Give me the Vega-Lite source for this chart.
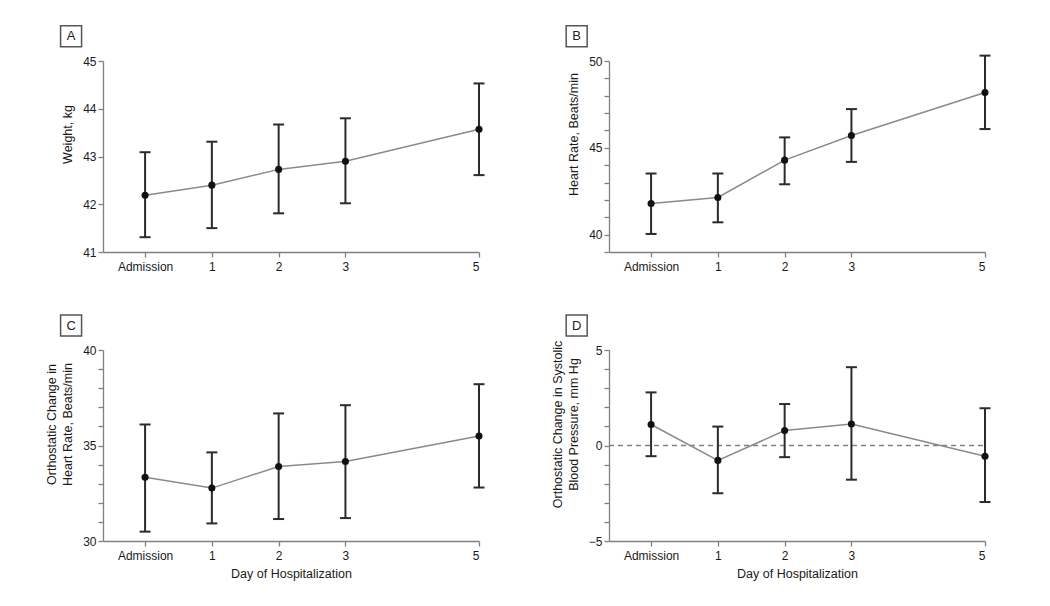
{
  "$schema": "https://vega.github.io/schema/vega-lite/v6.json",
  "background": "white",
  "padding": {"left": 45, "top": 22, "right": 5, "bottom": 5},
  "datasets": {
    "d": [
      {"panel": "A", "day": 0, "mean": 42.19, "lo": 41.31, "hi": 43.09},
      {"panel": "A", "day": 1, "mean": 42.4, "lo": 41.5, "hi": 43.31},
      {"panel": "A", "day": 2, "mean": 42.73, "lo": 41.81, "hi": 43.67},
      {"panel": "A", "day": 3, "mean": 42.9, "lo": 42.02, "hi": 43.8},
      {"panel": "A", "day": 5, "mean": 43.57, "lo": 42.61, "hi": 44.53},
      {"panel": "B", "day": 0, "mean": 41.79, "lo": 40.04, "hi": 43.52},
      {"panel": "B", "day": 1, "mean": 42.14, "lo": 40.71, "hi": 43.52},
      {"panel": "B", "day": 2, "mean": 44.29, "lo": 42.9, "hi": 45.6},
      {"panel": "B", "day": 3, "mean": 45.71, "lo": 44.19, "hi": 47.23},
      {"panel": "B", "day": 5, "mean": 48.19, "lo": 46.08, "hi": 50.31},
      {"panel": "C", "day": 0, "mean": 33.34, "lo": 30.49, "hi": 36.1},
      {"panel": "C", "day": 1, "mean": 32.77, "lo": 30.92, "hi": 34.64},
      {"panel": "C", "day": 2, "mean": 33.9, "lo": 31.15, "hi": 36.68},
      {"panel": "C", "day": 3, "mean": 34.16, "lo": 31.2, "hi": 37.11},
      {"panel": "C", "day": 5, "mean": 35.5, "lo": 32.8, "hi": 38.21},
      {"panel": "D", "day": 0, "mean": 1.1, "lo": -0.56, "hi": 2.78},
      {"panel": "D", "day": 1, "mean": -0.78, "lo": -2.5, "hi": 0.99},
      {"panel": "D", "day": 2, "mean": 0.78, "lo": -0.61, "hi": 2.17},
      {"panel": "D", "day": 3, "mean": 1.13, "lo": -1.79, "hi": 4.1},
      {"panel": "D", "day": 5, "mean": -0.56, "lo": -2.96, "hi": 1.95}
    ]
  },
  "config": {
    "view": {"stroke": null},
    "axis": {
      "labelFont": "Liberation Sans",
      "labelFontSize": 12,
      "labelColor": "#1a1a1a",
      "titleFont": "Liberation Sans",
      "titleFontSize": 12.5,
      "titleFontWeight": "normal",
      "titleColor": "#1a1a1a",
      "domainColor": "#808080",
      "tickColor": "#808080",
      "domainWidth": 1.3,
      "tickWidth": 1.3,
      "tickSize": 5,
      "labelPadding": 2,
      "labelOverlap": false,
      "grid": false
    }
  },
  "columns": 2,
  "spacing": {"row": 40, "column": 66},
  "concat": [
    {
      "width": 376, "height": 191,
      "data": {"name": "d"},
      "transform": [{"filter": "datum.panel == 'A'"}],
      "encoding": {
        "x": {"field": "day", "type": "quantitative", "scale": {"domain": [-0.63, 5], "nice": false, "zero": false},
              "axis": {"values": [0, 1, 2, 3, 5], "tickCount": 20, "format": "d", "labelPadding": 4, "labelExpr": "datum.value == 0 ? 'Admission' : datum.label", "title": null}}
      },
      "layer": [
        {"mark": {"type": "line", "color": "#8a8a8a", "strokeWidth": 1.5},
         "encoding": {"y": {"field": "mean", "type": "quantitative", "scale": {"domain": [41, 45], "nice": false, "zero": false},
                            "axis": {"values": [41, 42, 43, 44, 45], "tickCount": 20, "format": "d", "labelOverlap": false, "title": "Weight, kg", "titleY": 73, "titlePadding": 8}}}},
        {"mark": {"type": "rule", "color": "#2b2b2b", "strokeWidth": 2},
         "encoding": {"y": {"field": "lo", "type": "quantitative"}, "y2": {"field": "hi"}}},
        {"mark": {"type": "tick", "orient": "horizontal", "size": 11, "thickness": 2, "color": "#2b2b2b", "opacity": 1},
         "encoding": {"y": {"field": "lo", "type": "quantitative"}}},
        {"mark": {"type": "tick", "orient": "horizontal", "size": 11, "thickness": 2, "color": "#2b2b2b", "opacity": 1},
         "encoding": {"y": {"field": "hi", "type": "quantitative"}}},
        {"mark": {"type": "point", "filled": true, "size": 50, "color": "#111111", "opacity": 1},
         "encoding": {"y": {"field": "mean", "type": "quantitative"}}},
        {"transform": [{"filter": "datum.day == 0"}],
         "mark": {"type": "point", "shape": "square", "size": 441, "fill": "white", "stroke": "#555555", "strokeWidth": 1.5, "opacity": 1, "fillOpacity": 1},
         "encoding": {"x": {"datum": -1.108, "type": "quantitative"}, "y": {"datum": 45.52, "type": "quantitative"}}},
        {"transform": [{"filter": "datum.day == 0"}],
         "mark": {"type": "text", "font": "Liberation Sans", "fontSize": 13, "color": "#222222", "baseline": "middle", "align": "center"},
         "encoding": {"text": {"field": "panel"}, "x": {"datum": -1.108, "type": "quantitative"}, "y": {"datum": 45.52, "type": "quantitative"}}}
      ]
    },
    {
      "width": 376, "height": 191,
      "data": {"name": "d"},
      "transform": [{"filter": "datum.panel == 'B'"}],
      "encoding": {
        "x": {"field": "day", "type": "quantitative", "scale": {"domain": [-0.63, 5], "nice": false, "zero": false},
              "axis": {"values": [0, 1, 2, 3, 5], "tickCount": 20, "format": "d", "labelPadding": 4, "labelExpr": "datum.value == 0 ? 'Admission' : datum.label", "title": null}}
      },
      "layer": [
        {"mark": {"type": "line", "color": "#8a8a8a", "strokeWidth": 1.5},
         "encoding": {"y": {"field": "mean", "type": "quantitative", "scale": {"domain": [39, 50], "nice": false, "zero": false},
                            "axis": {"values": [39, 40, 41, 42, 43, 44, 45, 46, 47, 48, 49, 50], "tickCount": 20, "format": "d", "labelOverlap": false,
                                     "labelOpacity": {"condition": {"test": "datum.value % 5 == 0", "value": 1}, "value": 0},
                                     "title": "Heart Rate, Beats/min", "titleY": 73, "titlePadding": 8}}}},
        {"mark": {"type": "rule", "color": "#2b2b2b", "strokeWidth": 2},
         "encoding": {"y": {"field": "lo", "type": "quantitative"}, "y2": {"field": "hi"}}},
        {"mark": {"type": "tick", "orient": "horizontal", "size": 11, "thickness": 2, "color": "#2b2b2b", "opacity": 1},
         "encoding": {"y": {"field": "lo", "type": "quantitative"}}},
        {"mark": {"type": "tick", "orient": "horizontal", "size": 11, "thickness": 2, "color": "#2b2b2b", "opacity": 1},
         "encoding": {"y": {"field": "hi", "type": "quantitative"}}},
        {"mark": {"type": "point", "filled": true, "size": 50, "color": "#111111", "opacity": 1},
         "encoding": {"y": {"field": "mean", "type": "quantitative"}}},
        {"transform": [{"filter": "datum.day == 0"}],
         "mark": {"type": "point", "shape": "square", "size": 441, "fill": "white", "stroke": "#555555", "strokeWidth": 1.5, "opacity": 1, "fillOpacity": 1},
         "encoding": {"x": {"datum": -1.114, "type": "quantitative"}, "y": {"datum": 51.42, "type": "quantitative"}}},
        {"transform": [{"filter": "datum.day == 0"}],
         "mark": {"type": "text", "font": "Liberation Sans", "fontSize": 13, "color": "#222222", "baseline": "middle", "align": "center"},
         "encoding": {"text": {"field": "panel"}, "x": {"datum": -1.114, "type": "quantitative"}, "y": {"datum": 51.42, "type": "quantitative"}}}
      ]
    },
    {
      "width": 376, "height": 191,
      "data": {"name": "d"},
      "transform": [{"filter": "datum.panel == 'C'"}],
      "encoding": {
        "x": {"field": "day", "type": "quantitative", "scale": {"domain": [-0.63, 5], "nice": false, "zero": false},
              "axis": {"values": [0, 1, 2, 3, 5], "tickCount": 20, "format": "d", "labelPadding": 4, "labelExpr": "datum.value == 0 ? 'Admission' : datum.label", "title": "Day of Hospitalization", "titlePadding": 6}}
      },
      "layer": [
        {"mark": {"type": "line", "color": "#8a8a8a", "strokeWidth": 1.5},
         "encoding": {"y": {"field": "mean", "type": "quantitative", "scale": {"domain": [30, 40], "nice": false, "zero": false},
                            "axis": {"values": [30, 31, 32, 33, 34, 35, 36, 37, 38, 39, 40], "tickCount": 20, "format": "d", "labelOverlap": false,
                                     "labelOpacity": {"condition": {"test": "datum.value % 5 == 0", "value": 1}, "value": 0},
                                     "title": ["Orthostatic Change in", "Heart Rate, Beats/min"], "titleY": 74, "titlePadding": 8, "titleLineHeight": 16}}}},
        {"mark": {"type": "rule", "color": "#2b2b2b", "strokeWidth": 2},
         "encoding": {"y": {"field": "lo", "type": "quantitative"}, "y2": {"field": "hi"}}},
        {"mark": {"type": "tick", "orient": "horizontal", "size": 11, "thickness": 2, "color": "#2b2b2b", "opacity": 1},
         "encoding": {"y": {"field": "lo", "type": "quantitative"}}},
        {"mark": {"type": "tick", "orient": "horizontal", "size": 11, "thickness": 2, "color": "#2b2b2b", "opacity": 1},
         "encoding": {"y": {"field": "hi", "type": "quantitative"}}},
        {"mark": {"type": "point", "filled": true, "size": 50, "color": "#111111", "opacity": 1},
         "encoding": {"y": {"field": "mean", "type": "quantitative"}}},
        {"transform": [{"filter": "datum.day == 0"}],
         "mark": {"type": "point", "shape": "square", "size": 441, "fill": "white", "stroke": "#555555", "strokeWidth": 1.5, "opacity": 1, "fillOpacity": 1},
         "encoding": {"x": {"datum": -1.108, "type": "quantitative"}, "y": {"datum": 41.28, "type": "quantitative"}}},
        {"transform": [{"filter": "datum.day == 0"}],
         "mark": {"type": "text", "font": "Liberation Sans", "fontSize": 13, "color": "#222222", "baseline": "middle", "align": "center"},
         "encoding": {"text": {"field": "panel"}, "x": {"datum": -1.108, "type": "quantitative"}, "y": {"datum": 41.28, "type": "quantitative"}}}
      ]
    },
    {
      "width": 376, "height": 191,
      "data": {"name": "d"},
      "transform": [{"filter": "datum.panel == 'D'"}],
      "encoding": {
        "x": {"field": "day", "type": "quantitative", "scale": {"domain": [-0.63, 5], "nice": false, "zero": false},
              "axis": {"values": [0, 1, 2, 3, 5], "tickCount": 20, "format": "d", "labelPadding": 4, "labelExpr": "datum.value == 0 ? 'Admission' : datum.label", "title": "Day of Hospitalization", "titlePadding": 6}}
      },
      "layer": [
        {"transform": [{"filter": "datum.day == 0"}],
         "mark": {"type": "rule", "color": "#808080", "strokeWidth": 1.3, "strokeDash": [5, 4]},
         "encoding": {"x": {"datum": -0.63, "type": "quantitative"}, "x2": {"datum": 5}, "y": {"datum": 0, "type": "quantitative"}}},
        {"mark": {"type": "line", "color": "#8a8a8a", "strokeWidth": 1.5},
         "encoding": {"y": {"field": "mean", "type": "quantitative", "scale": {"domain": [-5, 5], "nice": false, "zero": false},
                            "axis": {"values": [-5, -4, -3, -2, -1, 0, 1, 2, 3, 4, 5], "tickCount": 20, "format": "d", "labelOverlap": false,
                                     "labelOpacity": {"condition": {"test": "datum.value % 5 == 0", "value": 1}, "value": 0},
                                     "title": ["Orthostatic Change in Systolic", "Blood Pressure, mm Hg"], "titleY": 74, "titlePadding": 8, "titleLineHeight": 16}}}},
        {"mark": {"type": "rule", "color": "#2b2b2b", "strokeWidth": 2},
         "encoding": {"y": {"field": "lo", "type": "quantitative"}, "y2": {"field": "hi"}}},
        {"mark": {"type": "tick", "orient": "horizontal", "size": 11, "thickness": 2, "color": "#2b2b2b", "opacity": 1},
         "encoding": {"y": {"field": "lo", "type": "quantitative"}}},
        {"mark": {"type": "tick", "orient": "horizontal", "size": 11, "thickness": 2, "color": "#2b2b2b", "opacity": 1},
         "encoding": {"y": {"field": "hi", "type": "quantitative"}}},
        {"mark": {"type": "point", "filled": true, "size": 50, "color": "#111111", "opacity": 1},
         "encoding": {"y": {"field": "mean", "type": "quantitative"}}},
        {"transform": [{"filter": "datum.day == 0"}],
         "mark": {"type": "point", "shape": "square", "size": 441, "fill": "white", "stroke": "#555555", "strokeWidth": 1.5, "opacity": 1, "fillOpacity": 1},
         "encoding": {"x": {"datum": -1.114, "type": "quantitative"}, "y": {"datum": 6.28, "type": "quantitative"}}},
        {"transform": [{"filter": "datum.day == 0"}],
         "mark": {"type": "text", "font": "Liberation Sans", "fontSize": 13, "color": "#222222", "baseline": "middle", "align": "center"},
         "encoding": {"text": {"field": "panel"}, "x": {"datum": -1.114, "type": "quantitative"}, "y": {"datum": 6.28, "type": "quantitative"}}}
      ]
    }
  ]
}
